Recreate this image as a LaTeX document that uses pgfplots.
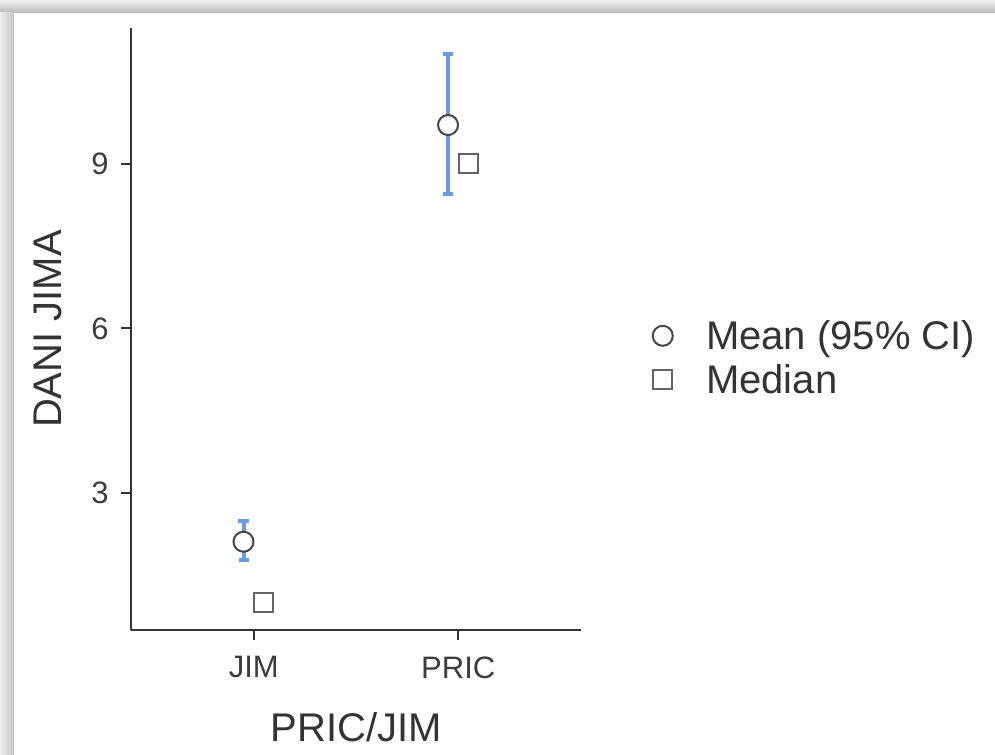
\documentclass[border=0pt]{standalone}
\usepackage{fontspec}
\setmainfont{Liberation Sans}
\usepackage{pgfplots}
\pgfplotsset{compat=1.18}
\definecolor{axisgray}{RGB}{51,51,51}
\definecolor{txtgray}{RGB}{60,60,60}
\definecolor{cibl}{RGB}{106,155,235}
\definecolor{mkgray}{RGB}{70,70,70}
\definecolor{sqgray}{RGB}{100,100,100}

\begin{document}
\begin{tikzpicture}
  % page: 995x755 px at 0.5bp per px
  \path (0,0) rectangle (497.5bp,377.5bp);
  \shade[top color=gray!12, bottom color=gray!55] (0,371bp) rectangle (497.5bp,377.5bp);
  \shade[left color=gray!14, right color=gray!45] (0,0) rectangle (7bp,371bp);

  \begin{axis}[
      at={(65.5bp,62.5bp)}, anchor=south west,
      scale only axis,
      width=225bp, height=301bp,
      xmin=0.4, xmax=2.6,
      ymin=0.5, ymax=11.48,
      axis x line*=bottom, axis y line*=left,
      axis line style={draw=axisgray, line width=1bp, -},
      xtick={1,2}, xticklabels={JIM,PRIC},
      ytick={3,6,9},
      tick align=outside,
      major tick length=5bp,
      tick style={draw=axisgray, line width=1bp},
      tick label style={font=\fontsize{15.5bp}{18bp}\selectfont, text=txtgray},
      /pgf/number format/assume math mode=true,
      xticklabel style={inner sep=0pt, yshift=-8bp},
      yticklabel style={inner sep=0pt, xshift=-6bp},
      xlabel={PRIC/JIM}, ylabel={DANI JIMA},
      label style={font=\fontsize{20bp}{24bp}\selectfont, text=axisgray, inner sep=0pt},
      xlabel style={at={(axis description cs:0.5,0)}, anchor=north, yshift=-41bp},
      ylabel style={at={(axis description cs:0,0.5)}, anchor=south, yshift=34.5bp},
      legend style={at={(axis description cs:1.1422,0.448)}, anchor=west,
        draw=none, fill=none, inner sep=0pt, row sep=3bp,
        font=\fontsize{20bp}{24bp}\selectfont, text=axisgray,
        nodes={inner sep=0pt, text height=15bp, text depth=4bp}},
      legend cell align=left,
      legend image code/.code={
        \path (0bp,0bp) (30bp,0bp);
        \draw[#1] plot coordinates {(8.5bp,1.25bp)};
      },
    ]

    % 95% CI of the mean
    \addplot[draw=none, forget plot,
      error bars/.cd, y dir=both, y explicit,
      error bar style={draw=cibl, line width=2bp},
      error mark options={rotate=90, draw=cibl, line width=2bp, mark size=2.5bp}
    ] coordinates {
      (0.95,2.11) -= (0,0.33) += (0,0.37)
      (1.95,9.71) -= (0,1.26) += (0,1.29)
    };

    \addplot[only marks, mark=*, mark size=5bp,
      mark options={draw=mkgray, fill=white, line width=1bp}]
      coordinates {(0.95,2.11) (1.95,9.71)};
    \addlegendentry{Mean (95\% CI)}

    \addplot[only marks, mark=square*, mark size=4.75bp,
      mark options={draw=sqgray, fill=white, line width=1bp}]
      coordinates {(1.05,1.0) (2.05,9.0)};
    \addlegendentry{Median}

  \end{axis}
\end{tikzpicture}
\end{document}
